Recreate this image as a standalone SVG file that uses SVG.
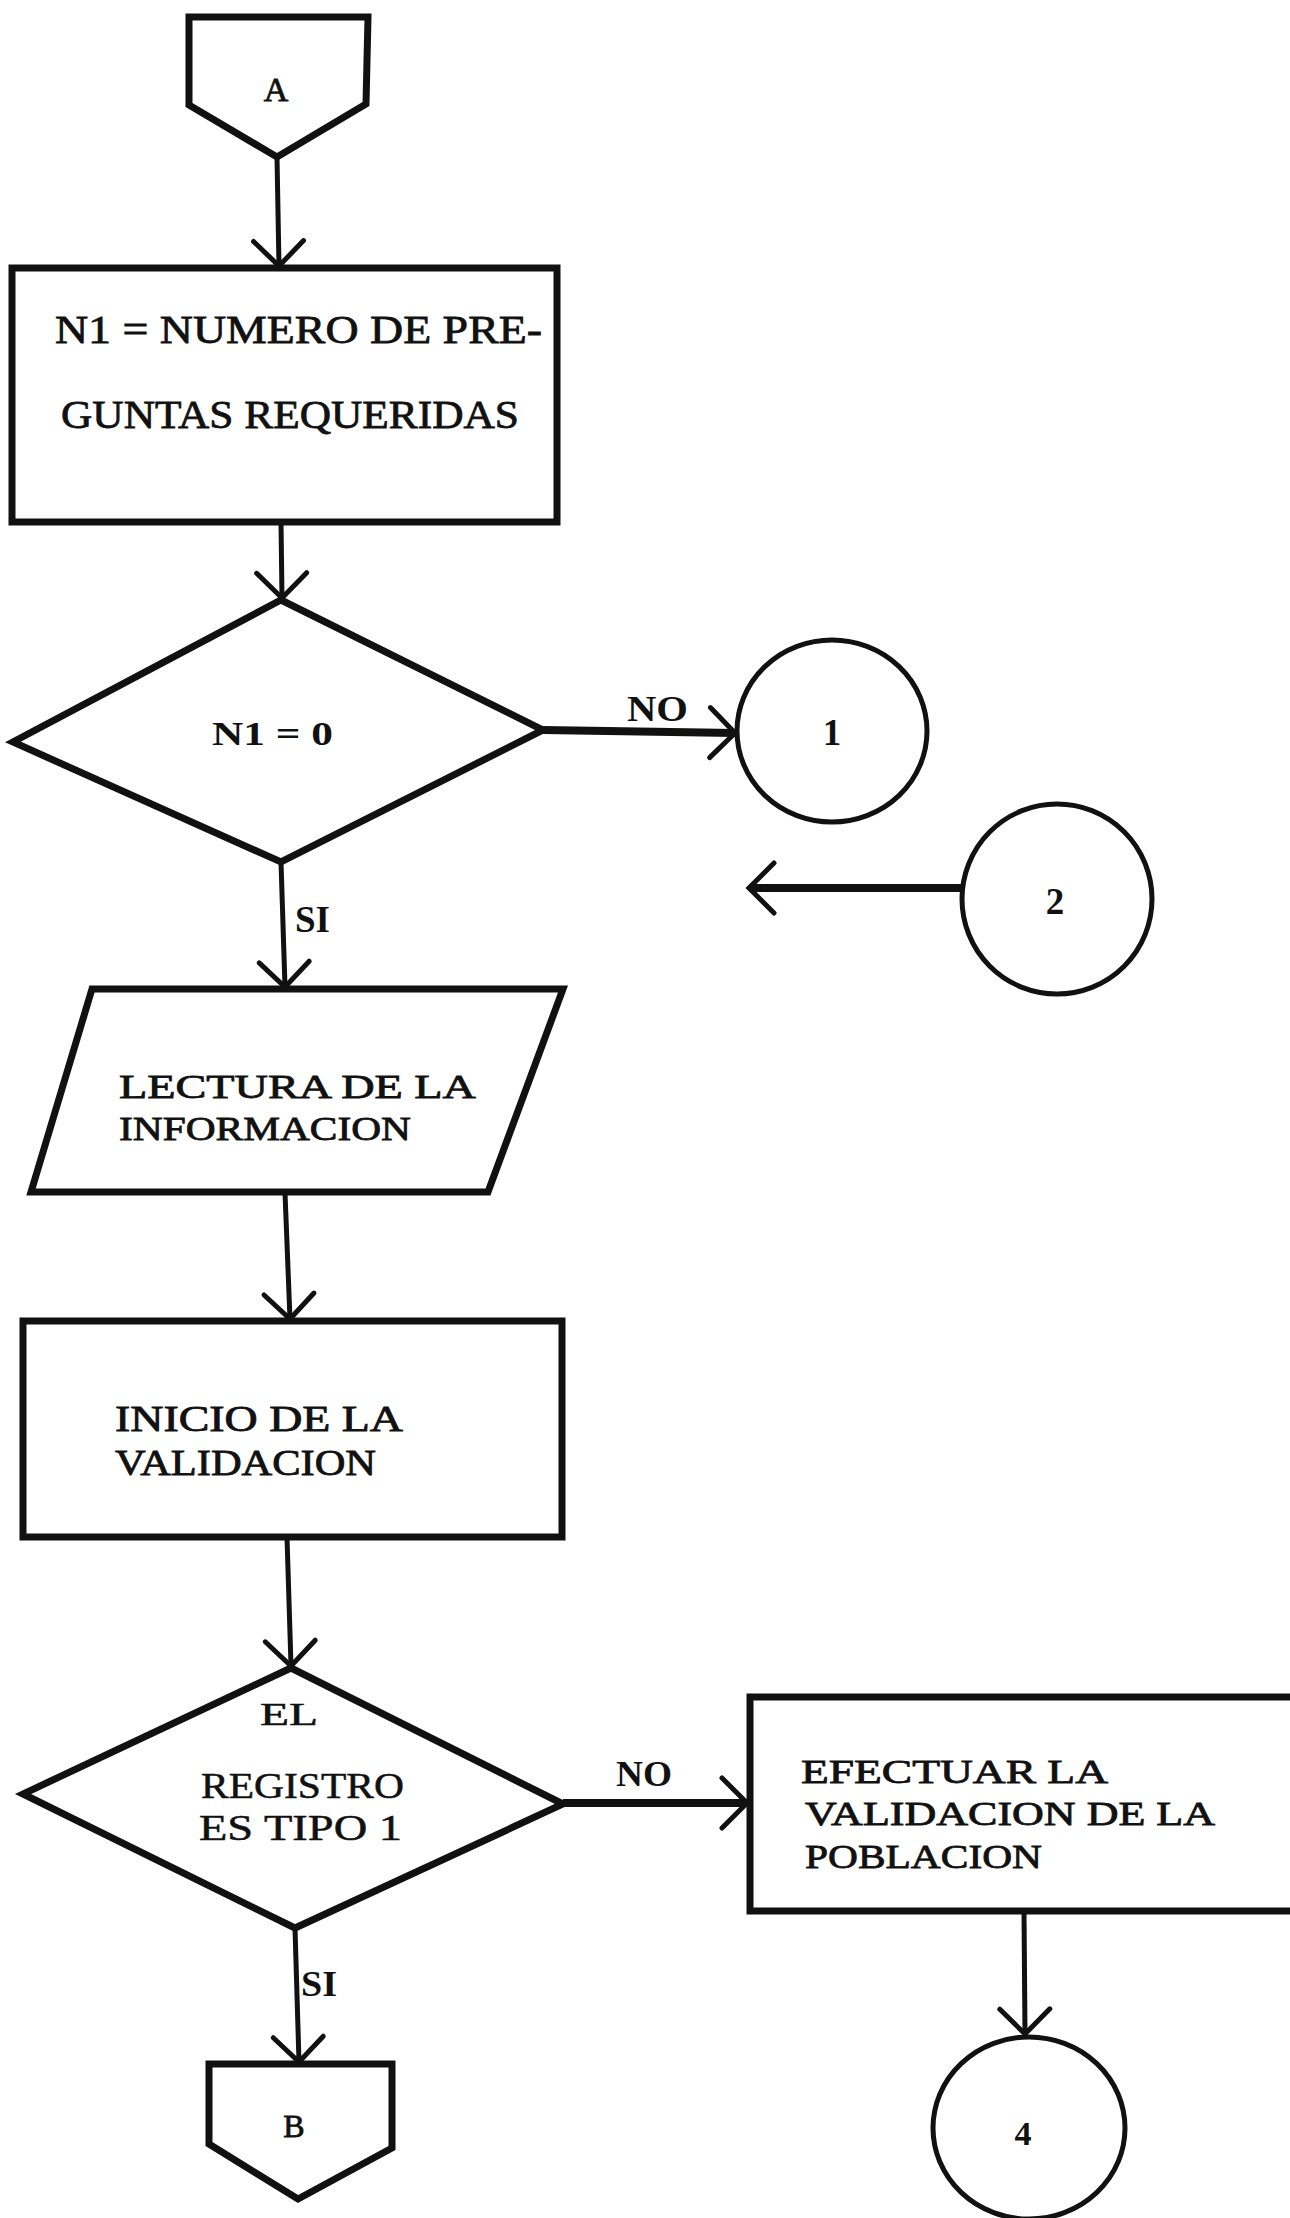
<svg xmlns="http://www.w3.org/2000/svg" width="1290" height="2218" viewBox="0 0 1290 2218">
<style>
.shape{fill:#fff;stroke:#111;stroke-width:7;stroke-linejoin:miter}
.circ{fill:#fff;stroke:#111;stroke-width:5}
.conn{fill:none;stroke:#111;stroke-width:5;marker-end:url(#arr)}
.thick{stroke-width:8}
.tw{font-family:"Liberation Serif","Times New Roman",serif;fill:#111;stroke:#111;stroke-width:0.8}
.twb{font-family:"Liberation Serif","Times New Roman",serif;font-weight:bold;fill:#111}
.sr{font-family:"Liberation Serif","Times New Roman",serif;fill:#111;stroke:#111;stroke-width:0.5}
.srb{font-family:"Liberation Serif","Times New Roman",serif;font-weight:bold;fill:#111}
</style>
<defs>
<marker id="arr" viewBox="-30 -30 34 60" refX="0" refY="0" markerWidth="34" markerHeight="60" markerUnits="userSpaceOnUse" orient="auto">
<path d="M-25,-25 L0,0 L-25,25" fill="none" stroke="#111" stroke-width="5" stroke-linecap="round" stroke-linejoin="miter"/>
</marker>
</defs>
<rect width="1290" height="2218" fill="#fff"/>
<g id="connectors">
<path class="conn" d="M277,157 L279,266"/>
<path class="conn" d="M281,522 L282,598"/>
<path class="conn thick" d="M543,730 L735,733"/>
<path class="conn thick" d="M962,888 L749,888"/>
<path class="conn" d="M281,862 L285,987"/>
<path class="conn" d="M285,1193 L290,1319"/>
<path class="conn" d="M287,1537 L291,1666"/>
<path class="conn thick" d="M563,1803 L747,1803"/>
<path class="conn" d="M1024,1911 L1025,2034"/>
<path class="conn" d="M295,1928 L299,2062"/>
<text class="srb" x="627" y="721" font-size="35" textLength="61" lengthAdjust="spacingAndGlyphs">NO</text>
<text class="srb" x="295" y="932" font-size="37" textLength="35" lengthAdjust="spacingAndGlyphs">SI</text>
<text class="srb" x="616" y="1786" font-size="35" textLength="56" lengthAdjust="spacingAndGlyphs">NO</text>
<text class="srb" x="301" y="1996" font-size="35" textLength="36" lengthAdjust="spacingAndGlyphs">SI</text>
</g>
<g id="nodeA">
<path class="shape" d="M189,17 L368,17 L366,104 L277,157 L189,105 Z"/>
<text class="tw" x="276" y="101" font-size="34" text-anchor="middle">A</text>
</g>
<g id="node-n1">
<rect class="shape" x="12" y="268" width="545" height="254"/>
<text class="tw" x="55" y="343" font-size="41" textLength="487" lengthAdjust="spacingAndGlyphs">N1 = NUMERO DE PRE-</text>
<text class="tw" x="61" y="428" font-size="41" textLength="458" lengthAdjust="spacingAndGlyphs">GUNTAS REQUERIDAS</text>
</g>
<g id="decision-n1">
<path class="shape" d="M281,600 L543,730 L281,862 L13,742 Z"/>
<text class="twb" x="212" y="745" font-size="33" textLength="121" lengthAdjust="spacingAndGlyphs">N1 = 0</text>
</g>
<g id="conn1">
<ellipse class="circ" cx="832" cy="731" rx="95" ry="91"/>
<text class="twb" x="832" y="745" font-size="37" text-anchor="middle">1</text>
</g>
<g id="conn2">
<ellipse class="circ" cx="1057" cy="899" rx="95" ry="95"/>
<text class="twb" x="1055" y="914" font-size="37" text-anchor="middle">2</text>
</g>
<g id="lectura">
<path class="shape" d="M92,989 L563,989 L488,1192 L31,1192 Z"/>
<text class="tw" x="119" y="1098" font-size="34" textLength="357" lengthAdjust="spacingAndGlyphs">LECTURA DE LA</text>
<text class="tw" x="119" y="1140" font-size="34" textLength="292" lengthAdjust="spacingAndGlyphs">INFORMACION</text>
</g>
<g id="inicio">
<rect class="shape" x="23" y="1321" width="539" height="216"/>
<text class="tw" x="115" y="1431" font-size="35" textLength="288" lengthAdjust="spacingAndGlyphs">INICIO DE LA</text>
<text class="tw" x="115" y="1475" font-size="35" textLength="261" lengthAdjust="spacingAndGlyphs">VALIDACION</text>
</g>
<g id="decision-tipo">
<path class="shape" d="M291,1668 L563,1804 L295,1928 L23,1794 Z"/>
<text class="sr" x="260" y="1725" font-size="31" textLength="58" lengthAdjust="spacingAndGlyphs">EL</text>
<text class="sr" x="201" y="1798" font-size="36" textLength="203" lengthAdjust="spacingAndGlyphs">REGISTRO</text>
<text class="sr" x="199" y="1840" font-size="36" textLength="203" lengthAdjust="spacingAndGlyphs">ES TIPO 1</text>
</g>
<g id="efectuar">
<rect class="shape" x="750" y="1697" width="560" height="214"/>
<text class="tw" x="801" y="1783" font-size="34" textLength="307" lengthAdjust="spacingAndGlyphs">EFECTUAR LA</text>
<text class="tw" x="805" y="1825" font-size="34" textLength="410" lengthAdjust="spacingAndGlyphs">VALIDACION DE LA</text>
<text class="tw" x="805" y="1868" font-size="34" textLength="237" lengthAdjust="spacingAndGlyphs">POBLACION</text>
</g>
<g id="conn4">
<ellipse class="circ" cx="1029" cy="2128" rx="96" ry="91"/>
<text class="twb" x="1023" y="2145" font-size="34" text-anchor="middle">4</text>
</g>
<g id="nodeB">
<path class="shape" d="M209,2064 L392,2064 L392,2148 L298,2199 L209,2144 Z"/>
<text class="tw" x="294" y="2137" font-size="32" text-anchor="middle">B</text>
</g>
</svg>
